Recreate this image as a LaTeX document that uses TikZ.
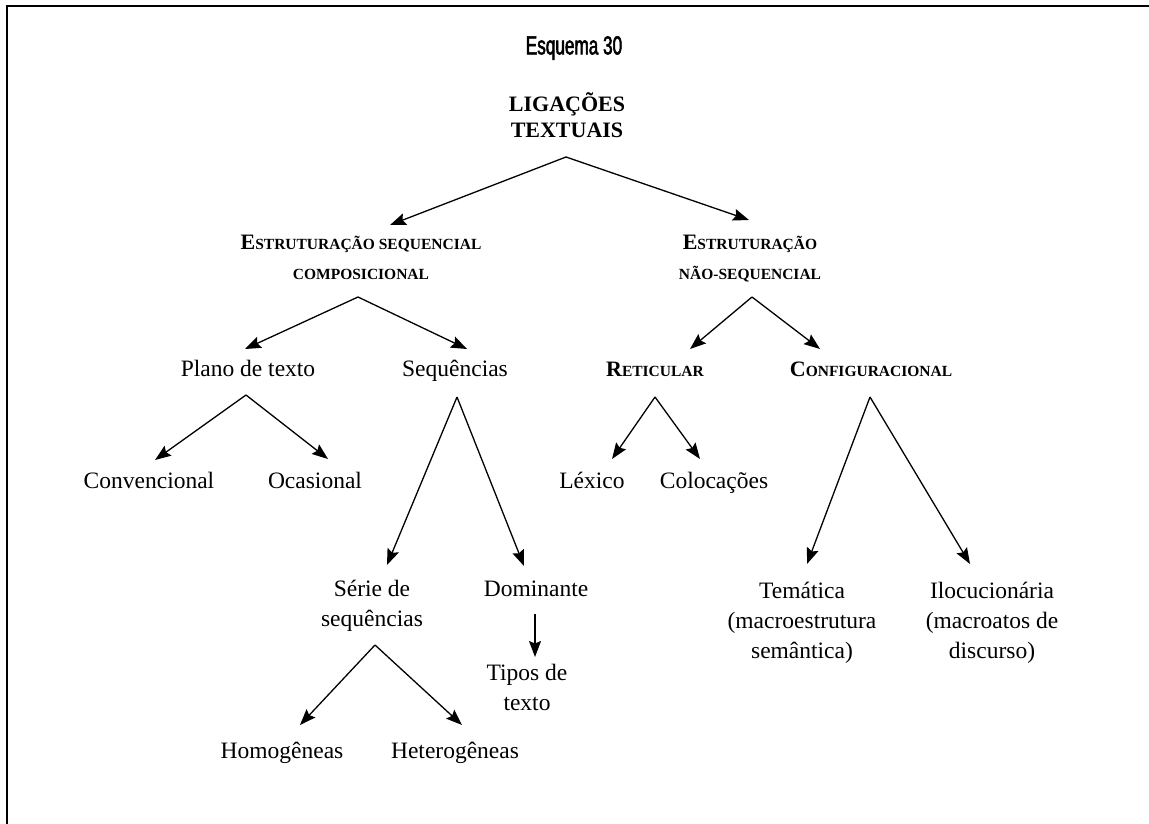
\documentclass[tikz,border=0pt]{standalone}
\usepackage{fontspec}
\setmainfont{Liberation Serif}
\newfontfamily\condsans[FakeStretch=0.66,FakeBold=2]{Liberation Sans}
\usetikzlibrary{arrows.meta}
\newcommand\SCap[2]{{\fontsize{22}{30}\selectfont #1}#2}
\begin{document}
\begin{tikzpicture}[x=1pt,y=-1pt,
  every node/.style={inner sep=0pt, align=center},
  lab/.style={font=\fontsize{23.5}{30}\selectfont},
  scaps/.style={font=\fontsize{15.5}{30}\selectfont\bfseries},
  ttl/.style={font=\fontsize{22}{26}\selectfont\bfseries},
  arr/.style={-{Stealth[length=16pt,width=12pt,inset=2.5pt]}, line width=1.3pt}
]
\useasboundingbox (0,0) rectangle (1149,824);
\draw[line width=2pt] (1149,6) -- (7,6) -- (7,824);

% texts
\node[font=\condsans\fontsize{26}{30}\selectfont] (title) at (574,48) {Esquema 30};
\node[ttl] (root) at (567,119) {\strut LIGAÇÕES\\\strut TEXTUAIS};
\node[scaps] (esc) at (361,258) {\strut\SCap{E}{STRUTURAÇÃO SEQUENCIAL}\\\strut COMPOSICIONAL};
\node[scaps] (ens) at (750,258) {\strut\SCap{E}{STRUTURAÇÃO}\\\strut NÃO-SEQUENCIAL};
\node[lab] (plano) at (248,370) {\strut Plano de texto};
\node[lab] (seq) at (455,370) {\strut Sequências};
\node[scaps] (ret) at (655,370) {\strut\SCap{R}{ETICULAR}};
\node[scaps] (conf) at (871,370) {\strut\SCap{C}{ONFIGURACIONAL}};
\node[lab] (conv) at (149,482) {\strut Convencional};
\node[lab] (ocas) at (315,482) {\strut Ocasional};
\node[lab] (lex) at (592,482) {\strut Léxico};
\node[lab] (coloc) at (714,482) {\strut Colocações};
\node[lab] (serie) at (372,605) {\strut Série de\\\strut sequências};
\node[lab] (dom) at (536,590) {\strut Dominante};
\node[lab] (tipos) at (527,689) {\strut Tipos de\\\strut texto};
\node[lab] (tema) at (802,622) {\strut Temática\\\strut (macroestrutura\\\strut semântica)};
\node[lab] (iloc) at (992,622) {\strut Ilocucionária\\\strut (macroatos de\\\strut discurso)};
\node[lab] (homo) at (282,752) {\strut Homogêneas};
\node[lab] (hetero) at (455,752) {\strut Heterogêneas};

% fork points and arrow ends
\coordinate (rootF) at (566,157);
\coordinate (escT) at (390,225);
\coordinate (ensT) at (749,220);
\coordinate (escF) at (358,297);
\coordinate (planoT) at (245,349);
\coordinate (seqT) at (467,349);
\coordinate (ensF) at (752,297);
\coordinate (retT) at (690,349);
\coordinate (confT) at (820,349);
\coordinate (planoF) at (246,395);
\coordinate (convT) at (155,460);
\coordinate (ocasT) at (328,459);
\coordinate (seqF) at (457,397);
\coordinate (serieT) at (387,565);
\coordinate (domT) at (524,566);
\coordinate (retF) at (655,397);
\coordinate (lexT) at (612,459);
\coordinate (colocT) at (700,459);
\coordinate (confF) at (870,397);
\coordinate (temaT) at (807,564);
\coordinate (ilocT) at (970,564);
\coordinate (domF) at (535,614);
\coordinate (tiposT) at (535,657);
\coordinate (serieF) at (375,645);
\coordinate (homoT) at (300,725);
\coordinate (heteroT) at (462,725);

\draw[arr] (rootF) -- (escT);
\draw[arr] (rootF) -- (ensT);
\draw[arr] (escF) -- (planoT);
\draw[arr] (escF) -- (seqT);
\draw[arr] (ensF) -- (retT);
\draw[arr] (ensF) -- (confT);
\draw[arr] (planoF) -- (convT);
\draw[arr] (planoF) -- (ocasT);
\draw[arr] (seqF) -- (serieT);
\draw[arr] (seqF) -- (domT);
\draw[arr] (retF) -- (lexT);
\draw[arr] (retF) -- (colocT);
\draw[arr] (confF) -- (temaT);
\draw[arr] (confF) -- (ilocT);
\draw[arr] (domF) -- (tiposT);
\draw[arr] (serieF) -- (homoT);
\draw[arr] (serieF) -- (heteroT);
\end{tikzpicture}
\end{document}
